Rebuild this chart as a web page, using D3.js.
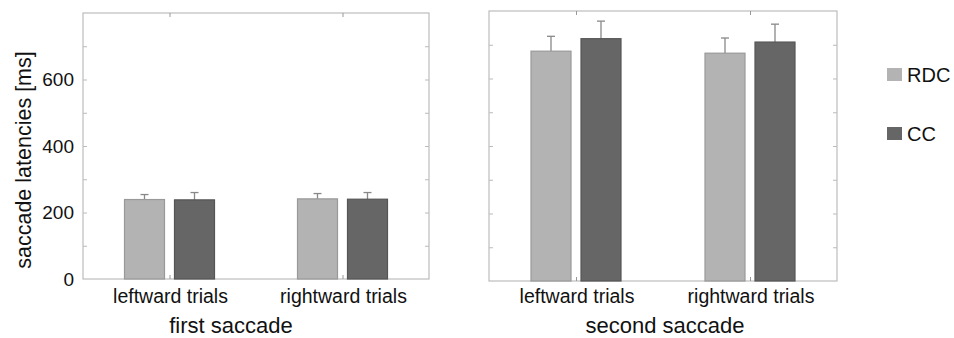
<!DOCTYPE html>
<html>
<head>
<meta charset="utf-8">
<script src="https://cdn.jsdelivr.net/npm/d3@7"></script>
<style>
  body { margin: 0; background: #fff; }
  svg { display: block; font-family: "Liberation Sans", Arial, Helvetica, sans-serif; }
</style>
</head>
<body>
<div id="chart"></div>
<script>
var width = 954, height = 338;

// data
var trials = ["leftward trials", "rightward trials"];
var conditions = ["RDC", "CC"];
var panelTitles = ["first saccade", "second saccade"];
var firstMeans = [[239, 238], [241, 240]];
var firstErrors = [[15, 22], [16, 20]];
var secondMeans = [[681, 718], [675, 708]];
var secondErrors = [[44, 52], [45, 53]];
var yTicks = [0, 200, 400, 600];

var colors = {RDC: "#b3b3b3", CC: "#666666"};
var strokes = {RDC: "#999999", CC: "#555555"};
var textColor = "#111";

var svg = d3.select("#chart").append("svg")
    .attr("width", width)
    .attr("height", height);

var panels = [
  {title: panelTitles[0], means: firstMeans, errors: firstErrors, x: 83, y: 13, w: 346, h: 266, labels: true, titleX: 148},
  {title: panelTitles[1], means: secondMeans, errors: secondErrors, x: 489, y: 11, w: 348, h: 270, labels: false, titleX: 176}
];

panels.forEach(function (p) {
  var g = svg.append("g").attr("transform", "translate(" + p.x + "," + p.y + ")");

  var y = d3.scaleLinear().domain([0, 800]).range([p.h, 0]);
  var x0 = d3.scalePoint().domain(trials).range([0, p.w]).padding(0.5);
  var x1 = d3.scaleBand().domain(conditions).range([-45, 45]).paddingInner(0.2);

  // frame
  g.append("rect")
    .attr("width", p.w).attr("height", p.h)
    .attr("fill", "none").attr("stroke", "#bdbdbd").attr("stroke-width", 1.2);

  // inner ticks on all four sides
  var minor = d3.range(100, 800, 100);
  g.append("g").call(d3.axisRight(y).tickValues(minor).tickSize(4).tickFormat(""))
    .call(a => a.select(".domain").remove())
    .selectAll("line").attr("stroke", "#bbb");
  g.append("g").attr("transform", "translate(" + p.w + ",0)")
    .call(d3.axisLeft(y).tickValues(minor).tickSize(4).tickFormat(""))
    .call(a => a.select(".domain").remove())
    .selectAll("line").attr("stroke", "#bbb");
  g.append("g").call(d3.axisBottom(x0).tickSize(4).tickFormat(""))
    .call(a => a.select(".domain").remove())
    .selectAll("line").attr("stroke", "#999");
  g.append("g").attr("transform", "translate(0," + p.h + ")")
    .call(d3.axisTop(x0).tickSize(4).tickFormat(""))
    .call(a => a.select(".domain").remove())
    .selectAll("line").attr("stroke", "#999");

  // y tick labels only on the first panel
  if (p.labels) {
    g.append("g").selectAll("text")
      .data(yTicks)
      .join("text")
      .attr("x", -9)
      .attr("y", d => y(d))
      .attr("dy", "0.36em")
      .attr("text-anchor", "end")
      .attr("font-size", 19)
      .attr("fill", textColor)
      .text(d => d);

    svg.append("text")
      .attr("transform", "translate(31,160) rotate(-90)")
      .attr("text-anchor", "middle")
      .attr("font-size", 21.5)
      .attr("fill", textColor)
      .text("saccade latencies [ms]");
  }

  // bars
  var groups = g.selectAll(".grp")
    .data(trials)
    .join("g")
    .attr("class", "grp")
    .attr("transform", d => "translate(" + x0(d) + ",0)");

  groups.each(function (t, i) {
    var rows = conditions.map((c, j) => ({c: c, v: p.means[i][j], e: p.errors[i][j]}));
    var gg = d3.select(this);

    gg.selectAll("line.err")
      .data(rows)
      .join("line")
      .attr("class", "err")
      .attr("x1", d => x1(d.c) + x1.bandwidth() / 2)
      .attr("x2", d => x1(d.c) + x1.bandwidth() / 2)
      .attr("y1", d => y(d.v))
      .attr("y2", d => y(d.v + d.e))
      .attr("stroke", "#888").attr("stroke-width", 1.3);

    gg.selectAll("line.cap")
      .data(rows)
      .join("line")
      .attr("class", "cap")
      .attr("x1", d => x1(d.c) + x1.bandwidth() / 2 - 4)
      .attr("x2", d => x1(d.c) + x1.bandwidth() / 2 + 4)
      .attr("y1", d => y(d.v + d.e))
      .attr("y2", d => y(d.v + d.e))
      .attr("stroke", "#888").attr("stroke-width", 1.3);

    gg.selectAll("rect")
      .data(rows)
      .join("rect")
      .attr("x", d => x1(d.c))
      .attr("y", d => y(d.v))
      .attr("width", x1.bandwidth())
      .attr("height", d => p.h - y(d.v))
      .attr("fill", d => colors[d.c])
      .attr("stroke", d => strokes[d.c])
      .attr("stroke-width", 1.2);
  });

  // category labels
  g.selectAll(".cat")
    .data(trials)
    .join("text")
    .attr("class", "cat")
    .attr("x", d => x0(d) + 1)
    .attr("y", 303 - p.y)
    .attr("text-anchor", "middle")
    .attr("font-size", 19.5)
    .attr("fill", textColor)
    .text(d => d);

  g.append("text")
    .attr("x", p.titleX)
    .attr("y", 333 - p.y)
    .attr("text-anchor", "middle")
    .attr("font-size", 22)
    .attr("fill", textColor)
    .text(p.title);
});

// legend
var legend = svg.append("g").attr("transform", "translate(887,0)");
var legendY = d3.scalePoint().domain(conditions).range([75, 134]);
legend.selectAll("rect")
  .data(conditions)
  .join("rect")
  .attr("x", 0)
  .attr("y", d => legendY(d) - 7)
  .attr("width", 15)
  .attr("height", 13)
  .attr("fill", d => colors[d]);
legend.selectAll("text")
  .data(conditions)
  .join("text")
  .attr("x", 20)
  .attr("y", d => legendY(d))
  .attr("dy", "0.36em")
  .attr("font-size", 20)
  .attr("fill", textColor)
  .text(d => d);
</script>
</body>
</html>
